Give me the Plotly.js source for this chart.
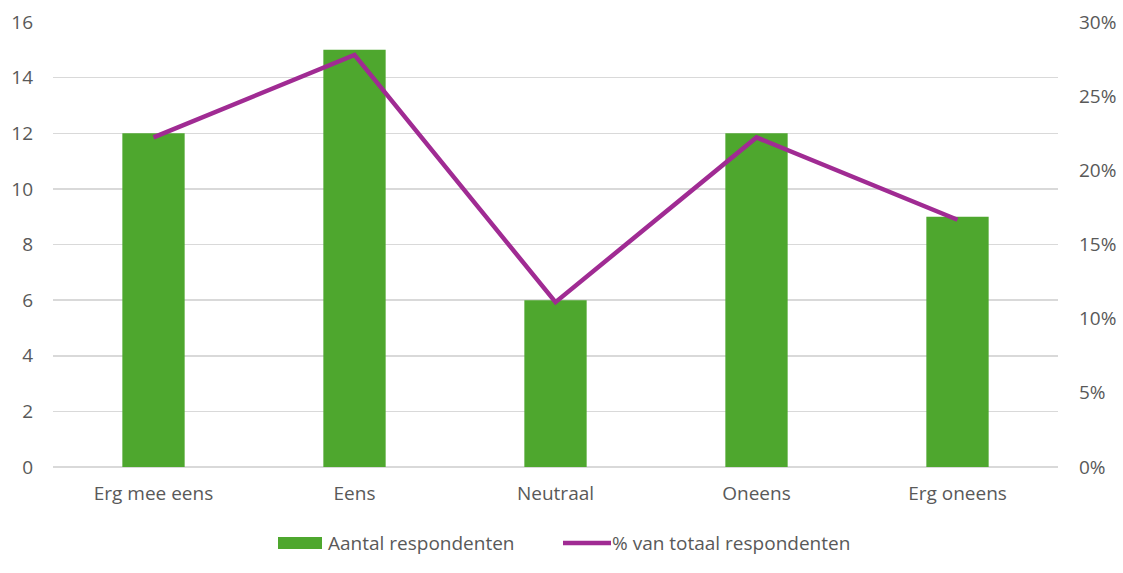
<!DOCTYPE html>
<html>
<head>
<meta charset="utf-8">
<script src="https://cdn.plot.ly/plotly-3.0.1.min.js"></script>
<style>html,body{margin:0;padding:0;background:#fff;}#chart{width:1123px;height:573px;}</style>
</head>
<body>
<div id="chart"></div>
<script>
const categories = ["Erg mee eens", "Eens", "Neutraal", "Oneens", "Erg oneens"];
const counts = [12, 15, 6, 12, 9];
const percents = [0.2222, 0.2778, 0.1111, 0.2222, 0.1667];
const seriesNames = ["Aantal respondenten", "% van totaal respondenten"];

const W = 1123, H = 573;
const M = {l: 53, r: 65, t: 22, b: 106};
const pw = W - M.l - M.r, ph = H - M.t - M.b;
const px = v => (v - M.l) / pw;
const py = v => (H - M.b - v) / ph;

const green = "#4EA72E", purple = "#A02B93";
const font = {family: "Open Sans, Liberation Sans, Arial, sans-serif", size: 19, color: "#595959"};

const traces = [
  {type: "bar", x: categories, y: counts, name: seriesNames[0], marker: {color: green}, width: 0.31, yaxis: "y"},
  {type: "scatter", mode: "lines", x: categories, y: percents, name: seriesNames[1], line: {color: purple, width: 4.5}, yaxis: "y2"}
];

const layout = {
  width: W, height: H,
  margin: M,
  paper_bgcolor: "#fff", plot_bgcolor: "#fff",
  font: font,
  showlegend: false,
  xaxis: {showgrid: false, zeroline: false, showline: false, ticks: "", tickfont: font, ticklabelstandoff: 13, fixedrange: true},
  yaxis: {range: [0, 16], dtick: 2, gridcolor: "#D9D9D9", gridwidth: 1.5, zeroline: true, zerolinecolor: "#D9D9D9", zerolinewidth: 1.5, showline: false, tickfont: font, ticklabelstandoff: 19},
  yaxis2: {range: [0, 0.3], dtick: 0.05, tickformat: ".0%", overlaying: "y", side: "right", showgrid: false, zeroline: false, showline: false, tickfont: font, ticklabelstandoff: 20},
  shapes: [
    {type: "rect", xref: "paper", yref: "paper", x0: px(278), x1: px(322), y0: py(549), y1: py(537), fillcolor: green, line: {width: 0}},
    {type: "line", xref: "paper", yref: "paper", x0: px(563), x1: px(611), y0: py(543), y1: py(543), line: {color: purple, width: 4.5}}
  ],
  annotations: [
    {xref: "paper", yref: "paper", x: px(326), y: py(543), xanchor: "left", yanchor: "middle", text: seriesNames[0], showarrow: false, font: font},
    {xref: "paper", yref: "paper", x: px(610), y: py(543), xanchor: "left", yanchor: "middle", text: seriesNames[1], showarrow: false, font: font}
  ]
};

Plotly.newPlot("chart", traces, layout, {displayModeBar: false, staticPlot: true});
</script>
</body>
</html>
